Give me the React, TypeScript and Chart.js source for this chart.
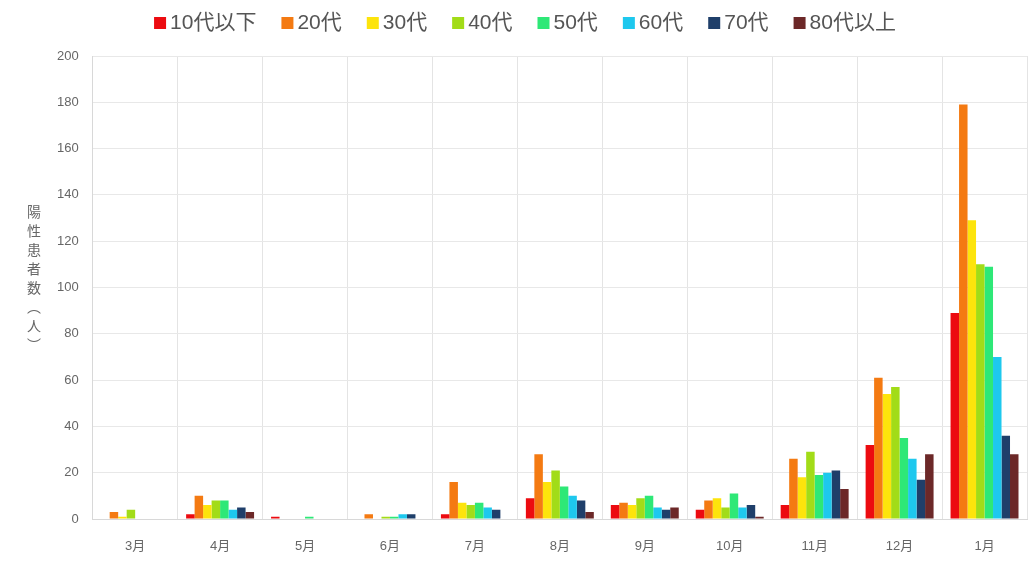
import React, { useEffect, useRef } from "react";
import { Chart, registerables } from "chart.js";

Chart.register(...registerables);

const months = ["3月", "4月", "5月", "6月", "7月", "8月", "9月", "10月", "11月", "12月", "1月"];
const seriesNames = ["10代以下", "20代", "30代", "40代", "50代", "60代", "70代", "80代以上"];
const teens = [0, 2, 1, 0, 2, 9, 6, 4, 6, 32, 89];
const twenties = [3, 10, 0, 2, 16, 28, 7, 8, 26, 61, 179];
const thirties = [1, 6, 0, 0, 7, 16, 6, 9, 18, 54, 129];
const forties = [4, 8, 0, 1, 6, 21, 9, 5, 29, 57, 110];
const fifties = [0, 8, 1, 1, 7, 14, 10, 11, 19, 35, 109];
const sixties = [0, 4, 0, 2, 5, 10, 5, 5, 20, 26, 70];
const seventies = [0, 5, 0, 2, 4, 8, 4, 6, 21, 17, 36];
const eighties = [0, 3, 0, 0, 0, 3, 5, 1, 13, 28, 28];
const colors = ["#ec0b10", "#f47a12", "#fde40c", "#a2dc18", "#2ee877", "#1ec8ee", "#1f3f6a", "#6c2828"];
const yTitleChars = ["陽", "性", "患", "者", "数", "︵", "人", "︶"];

const FONT = "'Liberation Sans', 'Noto Sans CJK JP', sans-serif";

export default function App() {
  const ref = useRef<HTMLCanvasElement>(null);
  useEffect(() => {
    document.body.style.margin = "0";
    const all = [teens, twenties, thirties, forties, fifties, sixties, seventies, eighties];
    const decorPlugin = {
      id: "decor",
      afterDraw(chart: any) {
        const ctx = chart.ctx;
        ctx.save();
        // vertical y-axis title
        ctx.fillStyle = "#666";
        ctx.font = `14px 'Noto Sans CJK JP', sans-serif`;
        ctx.textAlign = "center";
        ctx.textBaseline = "middle";
        let y = 212;
        for (const c of yTitleChars) {
          ctx.fillText(c, 34, y);
          y += 19;
        }
        // legend
        const fontSize = 21;
        const box = 12;
        const gapBox = 4;
        const gapItem = 25;
        ctx.font = `${fontSize}px ${FONT}`;
        const widths = seriesNames.map((n) => ctx.measureText(n).width);
        const total = widths.reduce((a, w) => a + box + gapBox + w, 0) + gapItem * (seriesNames.length - 1);
        let x = 525 - total / 2;
        const cy = 23;
        ctx.textAlign = "left";
        seriesNames.forEach((n, i) => {
          ctx.fillStyle = colors[i];
          ctx.fillRect(x, cy - box / 2, box, box);
          ctx.fillStyle = "#555";
          ctx.fillText(n, x + box + gapBox, cy);
          x += box + gapBox + widths[i] + gapItem;
        });
        ctx.restore();
      },
    };
    const chart = new Chart(ref.current!, {
      type: "bar",
      data: {
        labels: months,
        datasets: seriesNames.map((n, i) => ({
          label: n,
          data: all[i],
          backgroundColor: colors[i],
          borderWidth: 0,
          categoryPercentage: 0.8,
          barPercentage: 1.0,
        })),
      },
      options: {
        animation: false,
        responsive: false,
        maintainAspectRatio: false,
        layout: { padding: { left: 43, right: 5, top: 56, bottom: 0 } },
        plugins: {
          tooltip: { enabled: false },
          legend: { display: false },
        },
        scales: {
          x: {
            grid: { color: "#e4e4e4", offset: true, drawTicks: false },
            border: { color: "#d8d8d8" },
            ticks: { color: "#666", font: { family: FONT, size: 13 }, padding: 20 },
            afterFit(scale: any) {
              scale.height = 46;
            },
          },
          y: {
            min: 0,
            max: 200,
            grid: { color: "#e8e8e8", drawTicks: false },
            border: { color: "#d8d8d8" },
            ticks: { stepSize: 20, color: "#666", font: { family: FONT, size: 13 }, padding: 14 },
          },
        },
      },
      plugins: [decorPlugin],
    });
    return () => chart.destroy();
  }, []);
  return (
    <div style={{ position: "absolute", left: 0, top: 0, width: 1032, height: 565, background: "#fff" }}>
      <canvas ref={ref} width={1032} height={565} style={{ display: "block" }} />
    </div>
  );
}
